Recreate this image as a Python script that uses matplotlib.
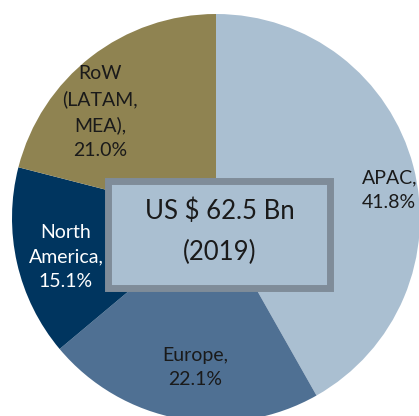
import matplotlib
matplotlib.use("Agg")
import matplotlib.pyplot as plt
import numpy as np
from matplotlib.patches import Rectangle

regions = ["APAC", "Europe", "North\nAmerica", "RoW\n(LATAM,\nMEA)"]
shares = [41.8, 22.1, 15.1, 21.0]
colors = ["#AABFD1", "#4F7093", "#00355F", "#8F8351"]
text_colors = ["#1a1a1a", "#1a1a1a", "#ffffff", "#1a1a1a"]
center_title = "US $ 62.5 Bn\n(2019)"

plt.rcParams['font.family'] = ['Lato', 'DejaVu Sans']

W, H = 419, 416
fig = plt.figure(figsize=(W / 100, H / 100), dpi=100)
ax = fig.add_axes([0, 0, 1, 1])

cx, cy, R = 216, H - 218, 204
wedges, _ = ax.pie(shares, colors=colors, startangle=90, counterclock=False,
                   center=(cx, cy), radius=R, frame=True,
                   wedgeprops=dict(linewidth=0))
ax.set_xlim(0, W)
ax.set_ylim(0, H)
ax.set_aspect('equal')
ax.axis('off')

# label placement (angle in deg, radius fraction)
label_pos = [(9.0, 0.86), (-97.9, 0.74), (-165.4, 0.76), (137.6, 0.77)]
for name, v, tc, (ang, rf) in zip(regions, shares, text_colors, label_pos):
    a = np.deg2rad(ang)
    x = cx + rf * R * np.cos(a)
    y = cy + rf * R * np.sin(a)
    ax.text(x, y, f"{name},\n{v:.1f}%", ha='center', va='center',
            fontsize=14, color=tc, linespacing=1.55)

# center box
bx0, bx1, by0, by1 = 107.5, 330, H - 287.5, H - 180.5
ax.add_patch(Rectangle((bx0, by0), bx1 - bx0, by1 - by0, facecolor="#AABFD1",
                       edgecolor="#7F8C99", linewidth=5, zorder=5))
ax.text((bx0 + bx1) / 2 + 1, (by0 + by1) / 2 + 2, center_title, ha='center', va='center',
        fontsize=18.5, color="#1a1a1a", linespacing=1.8, zorder=6)

fig.savefig("out.png", dpi=100)
